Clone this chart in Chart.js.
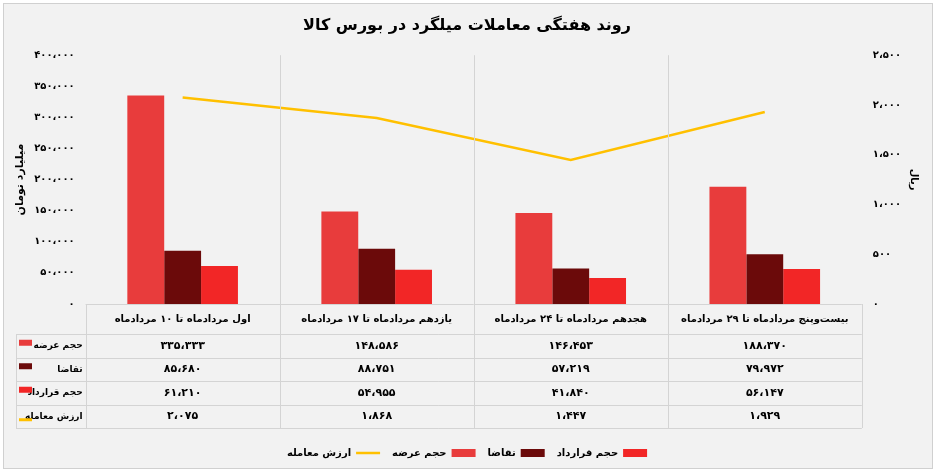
<!DOCTYPE html>
<html><head><meta charset="utf-8">
<script src="https://cdn.jsdelivr.net/npm/chart.js@4"></script>
<style>
  html,body{margin:0;background:#fff}
  #wrap{position:absolute;left:3px;top:3px;width:928px;height:464px;background:#f2f2f2;border:1px solid #d0d0d0}
</style></head>
<body><div id="wrap"><canvas id="c"></canvas></div>
<script>
const categories = ["اول مردادماه تا ۱۰ مردادماه", "یازدهم مردادماه تا ۱۷ مردادماه", "هجدهم مردادماه تا ۲۴ مردادماه", "بیست‌وپنج مردادماه تا ۲۹ مردادماه"];
const supply   = [335333, 148586, 146453, 188370];
const demand   = [85680, 88751, 57219, 79972];
const contract = [61210, 54955, 41840, 56147];
const tradeVal = [2075, 1868, 1447, 1929];
const seriesNames = ["حجم عرضه", "تقاضا", "حجم قرارداد", "ارزش معامله"];
const colors = ["#e83c3c", "#6b0a0a", "#f22626", "#ffc000"];

const FONT = "'DejaVu Sans', sans-serif";
const fa = v => String(v).replace(/\d/g, d => "۰۱۲۳۴۵۶۷۸۹"[d]);
const faNum = v => fa(Math.round(v).toString().replace(/\B(?=(\d{3})+(?!\d))/g, "،"));

const tablePlugin = {
  id: "table",
  afterDraw(chart) {
    const { ctx, chartArea: a, scales: { x } } = chart;
    const rows = [supply, demand, contract, tradeVal];
    const left = 12, headH = 30, rowH = 23.5;
    const top = a.bottom;
    const colW = (a.right - a.left) / categories.length;
    ctx.save();
    ctx.strokeStyle = "#d4d4d4";
    ctx.lineWidth = 1;
    ctx.beginPath();
    ctx.moveTo(a.left, top + 0.5); ctx.lineTo(a.right, top + 0.5);
    for (let r = 0; r <= rows.length; r++) {
      const y = Math.round(top + headH + r * rowH) + 0.5;
      ctx.moveTo(left, y); ctx.lineTo(a.right, y);
    }
    const bottom = top + headH + rows.length * rowH;
    ctx.moveTo(left + 0.5, top + headH); ctx.lineTo(left + 0.5, bottom);
    for (let c = 0; c <= categories.length; c++) {
      const xx = Math.round(a.left + c * colW) + 0.5;
      ctx.moveTo(xx, c === 0 || c === categories.length ? top : a.top);
      ctx.lineTo(xx, bottom);
    }
    ctx.stroke();
    ctx.fillStyle = "#000";
    ctx.textAlign = "center"; ctx.textBaseline = "middle";
    ctx.font = "bold 10px " + FONT;
    categories.forEach((c, i) => ctx.fillText(c, x.getPixelForValue(i), top + headH / 2));
    rows.forEach((row, r) => {
      const cy = top + headH + r * rowH + rowH / 2;
      ctx.font = "bold 11px " + FONT;
      row.forEach((v, i) => ctx.fillText(faNum(v), x.getPixelForValue(i), cy));
      ctx.textAlign = "right";
      ctx.font = "bold 9px " + FONT;
      ctx.fillText(seriesNames[r], a.left - 3, cy);
      ctx.fillStyle = colors[r];
      if (r === 3) ctx.fillRect(left + 3, cy + 2, 13, 3);
      else ctx.fillRect(left + 3, cy - 6, 13, 6);
      ctx.fillStyle = "#000"; ctx.textAlign = "center";
    });
    ctx.restore();
  }
};

new Chart(document.getElementById("c"), {
  data: {
    labels: categories,
    datasets: [
      { type: "line", label: seriesNames[3], data: tradeVal, yAxisID: "y1", borderColor: colors[3], backgroundColor: colors[3], borderWidth: 2.5, pointRadius: 0, tension: 0, pointStyle: "line", order: 0 },
      { type: "bar", label: seriesNames[0], data: supply, backgroundColor: colors[0], pointStyle: "rect", order: 1 },
      { type: "bar", label: seriesNames[1], data: demand, backgroundColor: colors[1], pointStyle: "rect", order: 1 },
      { type: "bar", label: seriesNames[2], data: contract, backgroundColor: colors[2], pointStyle: "rect", order: 1 },
    ],
  },
  options: {
    responsive: true,
    maintainAspectRatio: false,
    animation: false,
    layout: { padding: { left: 6, right: 8, top: 0, bottom: 0 } },
    datasets: { bar: { categoryPercentage: 0.57, barPercentage: 1 } },
    plugins: {
      title: { display: true, text: "روند هفتگی معاملات میلگرد در بورس کالا", color: "#000", font: { family: FONT, size: 16, weight: "bold" }, padding: { top: 12, bottom: 20 } },
      legend: {
        position: "bottom", rtl: true, reverse: true,
        labels: { usePointStyle: true, pointStyleWidth: 24, boxHeight: 8, color: "#000", padding: 12, font: { family: FONT, size: 10, weight: "bold" } },
      },
      tooltip: { enabled: false },
    },
    scales: {
      x: {
        grid: { display: false }, border: { display: false },
        ticks: { display: false },
        afterFit: s => { s.height = 132; },
      },
      y: {
        min: 0, max: 400000,
        ticks: { stepSize: 50000, color: "#000", font: { family: FONT, size: 10, weight: "bold" }, callback: v => faNum(v) },
        grid: { display: false }, border: { display: false },
        title: { display: true, text: "میلیارد تومان", color: "#000", font: { family: FONT, size: 11, weight: "bold" } },
      },
      y1: {
        position: "right", min: 0, max: 2500,
        ticks: { stepSize: 500, color: "#000", font: { family: FONT, size: 10, weight: "bold" }, callback: v => faNum(v) },
        grid: { display: false }, border: { display: false },
        title: { display: true, text: "ریال", color: "#000", font: { family: FONT, size: 10, weight: "bold" } },
      },
    },
  },
  plugins: [tablePlugin],
});
</script></body></html>
